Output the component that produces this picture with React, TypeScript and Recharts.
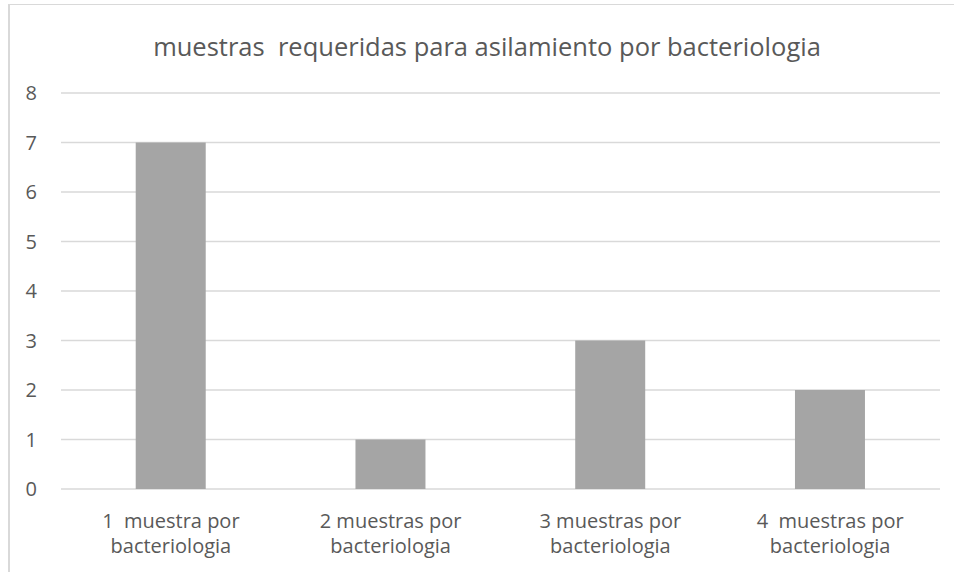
import { BarChart, Bar, XAxis, YAxis, CartesianGrid } from 'recharts'

const categories = [
  '1  muestra por\nbacteriologia',
  '2 muestras por\nbacteriologia',
  '3 muestras por\nbacteriologia',
  '4  muestras por\nbacteriologia',
]
const counts = [7, 1, 3, 2]
const yTicks = [0, 1, 2, 3, 4, 5, 6, 7, 8]

const TITLE = 'muestras  requeridas para asilamiento por bacteriologia'
const FONT = '"Open Sans", "Noto Sans", sans-serif'
const TEXT = '#595959'
const GRID = '#d9d9d9'
const BAR = '#a5a5a5'

const data = categories.map((name, i) => ({ name, value: counts[i] }))

interface TickProps {
  x?: number
  y?: number
  payload?: { value: string }
}

function CategoryTick({ x = 0, y = 0, payload }: TickProps) {
  const lines = (payload?.value ?? '').split('\n')
  return (
    <text x={x} y={y} textAnchor="middle" fill={TEXT} fontSize={20} fontFamily={FONT}>
      {lines.map((line, i) => (
        <tspan key={i} x={x} y={y + 39 + i * 25} style={{ whiteSpace: 'pre' }}>
          {line}
        </tspan>
      ))}
    </text>
  )
}

export default function App() {
  return (
    <div style={{ position: 'fixed', left: 0, top: 0, width: 954, height: 572, background: '#fff' }}>
      {/* chart frame: only the left and top edges show */}
      <div style={{ position: 'absolute', left: 8, top: 4, width: 946, height: 568, borderLeft: `2px solid ${GRID}`, borderTop: `1px solid ${GRID}` }} />
      <div style={{
        position: 'absolute', left: 0, top: 28, width: 974, textAlign: 'center',
        fontFamily: FONT, fontSize: 25.5, lineHeight: '36px', color: TEXT, whiteSpace: 'pre',
      }}>
        {TITLE}
      </div>
      <BarChart
        width={954}
        height={572}
        data={data}
        margin={{ top: 93, right: 14, left: 21, bottom: 0 }}
        barCategoryGap="34%"
        style={{ position: 'absolute', left: 0, top: 0 }}
      >
        <CartesianGrid vertical={false} stroke={GRID} strokeWidth={1.5} />
        <XAxis
          dataKey="name"
          axisLine={false}
          tickLine={false}
          tickSize={0}
          tickMargin={0}
          interval={0}
          height={83}
          tick={<CategoryTick />}
        />
        <YAxis
          domain={[0, 8]}
          ticks={yTicks}
          axisLine={false}
          tickLine={false}
          tickSize={0}
          tickMargin={24}
          width={40}
          tick={{ fill: TEXT, fontSize: 20, fontFamily: FONT }}
        />
        <Bar dataKey="value" fill={BAR} isAnimationActive={false} />
      </BarChart>
    </div>
  )
}
